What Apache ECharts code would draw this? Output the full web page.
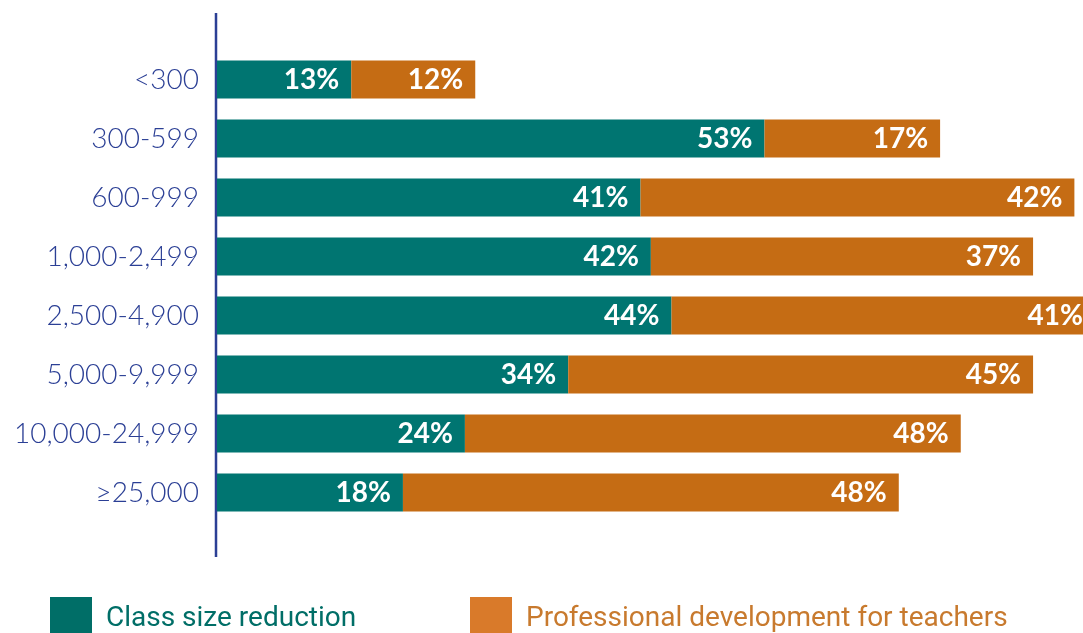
<!DOCTYPE html>
<html>
<head>
<meta charset="utf-8">
<script src="https://cdn.jsdelivr.net/npm/echarts@6/dist/echarts.min.js"></script>
<style>html,body{margin:0;padding:0;background:#fff;}#c{width:1083px;height:633px;}</style>
</head>
<body>
<div id="c"></div>
<script>
const categories = ['<300','300-599','600-999','1,000-2,499','2,500-4,900','5,000-9,999','10,000-24,999','≥25,000'];
const classSize = [13,53,41,42,44,34,24,18];
const profDev = [12,17,42,37,41,45,48,48];
const seriesNames = ['Class size reduction','Professional development for teachers'];

const chart = echarts.init(document.getElementById('c'));
const labelStyle = {
  show: true, position: 'insideRight', distance: 12,
  formatter: '{c}%', color: '#fff', fontFamily: 'Lato', fontWeight: 'bold', fontSize: 28
};
chart.setOption({
  animation: false,
  grid: { left: 217, top: 50, height: 472, width: 1033, outerBoundsMode: 'none', containLabel: false },
  xAxis: { type: 'value', min: 0, max: 100, show: false },
  yAxis: {
    type: 'category', data: categories, inverse: true,
    axisLine: { show: false }, axisTick: { show: false },
    axisLabel: { margin: 18, color: '#2b3f95', fontFamily: 'Lato', fontSize: 28, fontWeight: 300 }
  },
  legend: [
    { data: [{ name: seriesNames[0], itemStyle: { color: '#006e67' }, textStyle: { color: '#006e67' } }],
      left: 50, top: 597, padding: 0, icon: 'rect', itemWidth: 42, itemHeight: 44, itemGap: 0,
      textStyle: { fontFamily: 'Roboto', fontSize: 28, padding: [0,0,0,9] }, selectedMode: false },
    { data: [{ name: seriesNames[1], itemStyle: { color: '#d97a2a' }, textStyle: { color: '#c87a2e' } }],
      left: 470, top: 597, padding: 0, icon: 'rect', itemWidth: 42, itemHeight: 44, itemGap: 0,
      textStyle: { fontFamily: 'Roboto', fontSize: 28, padding: [0,0,0,9] }, selectedMode: false }
  ],
  graphic: [
    { type: 'line', shape: { x1: 216, y1: 13, x2: 216, y2: 557 }, style: { stroke: '#2b3f95', lineWidth: 2.5 } }
  ],
  series: [
    { name: seriesNames[0], type: 'bar', stack: 't', data: classSize, barWidth: 38,
      itemStyle: { color: '#007571' }, label: labelStyle },
    { name: seriesNames[1], type: 'bar', stack: 't', data: profDev, barWidth: 38,
      itemStyle: { color: '#c56c14' }, label: labelStyle }
  ]
});
</script>
</body>
</html>
